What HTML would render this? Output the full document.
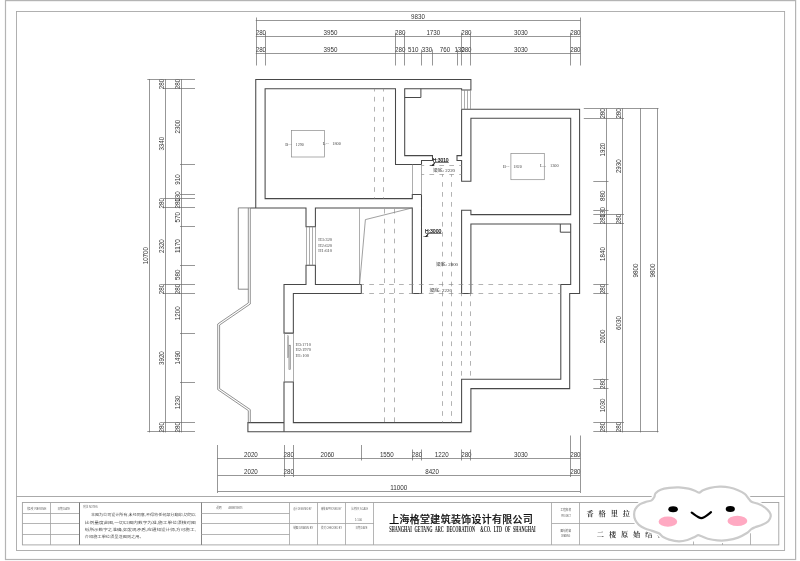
<!DOCTYPE html>
<html lang="zh"><head><meta charset="utf-8"><title>二楼原始结构图</title>
<style>
html,body{margin:0;padding:0;background:#fff;}
body{width:800px;height:561px;overflow:hidden;}
svg{display:block;font-family:"Liberation Sans","Noto Sans CJK SC",sans-serif;}
</style></head><body>
<svg width="800" height="561" viewBox="0 0 800 561">
<defs><filter id="gs" x="0" y="0" width="800" height="561" filterUnits="userSpaceOnUse" color-interpolation-filters="sRGB"><feColorMatrix type="saturate" values="0"/></filter></defs>
<rect width="800" height="561" fill="#fff"/>
<g filter="url(#gs)">
<rect x="5.5" y="0.6" width="790.1" height="558.9" fill="none" stroke="#b4b4b4" stroke-width="1.2"/>
<rect x="16.5" y="11.5" width="768.1" height="539.0" fill="none" stroke="#a8a8a8" stroke-width="0.9"/>
<path d="M255.75,207.9 V79.4 H470.9 V90.0 H461.6 V88.7 H404.7 V155.6 H432.5 V160.5 H421.5 V164.5 M421.5,194.4 V293.5 H412.3 V207.9 H315.4 V226.7 H306.0 V207.9 H250.3" fill="none" stroke="#484848" stroke-width="1.05" />
<path d="M421.5,164.5 H395.5 V88.7 H265.1 V198.6 H412.3 V194.4 H421.5" fill="none" stroke="#484848" stroke-width="1.05" />
<path d="M404.7,97.5 H420.9 V88.7" fill="none" stroke="#484848" stroke-width="1.0" />
<path d="M461.6,109.2 V155.6 H457.0 V160.5 H461.6 V181.2 H470.9 V118.3 H570.7 V214.6 H470.9 V210.3 H461.6 V293.5 H470.9 V224.0 H570.7 V284.4 H560.8 V379.3 H461.6 V422.6 H293.35 V382.0 H284.0 V431.8" fill="none" stroke="#484848" stroke-width="1.05" />
<path d="M461.6,109.2 H579.6 V293.5 H569.7 V388.6 H470.9 V431.8 H247.9 V422.6 H284.0" fill="none" stroke="#484848" stroke-width="1.05" />
<path d="M306.0,265.2 H315.4 V284.4 H361.3 V293.5 H293.35 V333.1 H284.0 V284.4 H306.0 Z" fill="none" stroke="#484848" stroke-width="1.05" />
<path d="M560.3,224.0 V232.2 H570.7" fill="none" stroke="#484848" stroke-width="1.0" />
<line x1="461.5" y1="90.0" x2="461.5" y2="109.2" stroke="#8a8a8a" stroke-width="0.7" />
<line x1="464.5" y1="90.0" x2="464.5" y2="109.2" stroke="#8a8a8a" stroke-width="0.7" />
<line x1="467.5" y1="90.0" x2="467.5" y2="109.2" stroke="#8a8a8a" stroke-width="0.7" />
<line x1="470.5" y1="90.0" x2="470.5" y2="109.2" stroke="#8a8a8a" stroke-width="0.7" />
<line x1="306.5" y1="226.7" x2="306.5" y2="265.2" stroke="#8a8a8a" stroke-width="0.7" />
<line x1="309.5" y1="226.7" x2="309.5" y2="265.2" stroke="#8a8a8a" stroke-width="0.7" />
<line x1="312.5" y1="226.7" x2="312.5" y2="265.2" stroke="#8a8a8a" stroke-width="0.7" />
<line x1="315.5" y1="226.7" x2="315.5" y2="265.2" stroke="#8a8a8a" stroke-width="0.7" />
<line x1="412.5" y1="164.5" x2="412.5" y2="194.4" stroke="#8a8a8a" stroke-width="0.7" />
<line x1="421.5" y1="164.5" x2="421.5" y2="194.4" stroke="#8a8a8a" stroke-width="0.7" />
<path d="M250.3,207.9 H238.3 V289.2 H248.3" fill="none" stroke="#6c6c6c" stroke-width="0.8" />
<path d="M248.3,207.9 V303 L217.7,324 V389.6 L248.3,410.6 V422.6" fill="none" stroke="#777" stroke-width="0.8" />
<path d="M250.3,207.9 V304 L219.6,325 V388.6 L250.3,409.6 V422.6" fill="none" stroke="#777" stroke-width="0.8" />
<line x1="284.5" y1="333.1" x2="284.5" y2="382.0" stroke="#8a8a8a" stroke-width="0.7" />
<line x1="293.5" y1="333.1" x2="293.5" y2="382.0" stroke="#8a8a8a" stroke-width="0.7" />
<rect x="287.3" y="335.8" width="1.4" height="21.6" fill="none" stroke="#8a8a8a" stroke-width="0.6"/>
<rect x="288.9" y="345.2" width="1.8" height="24.2" fill="#ccc" stroke="#8a8a8a" stroke-width="0.6"/>
<line x1="359.5" y1="207.9" x2="359.5" y2="284.4" stroke="#8a8a8a" stroke-width="0.7" />
<path d="M412.3,207.9 L365.4,219.6 L359.6,284.4" fill="none" stroke="#777" stroke-width="0.7" />
<rect x="291.5" y="130.5" width="33" height="26.5" fill="none" stroke="#8a8a8a" stroke-width="0.7"/>
<rect x="510.9" y="153.4" width="33.4" height="26.3" fill="none" stroke="#8a8a8a" stroke-width="0.7"/>
<line x1="374.5" y1="88.7" x2="374.5" y2="198.6" stroke="#8a8a8a" stroke-width="0.65" stroke-dasharray="4.7 5.34" stroke-dashoffset="1.9"/>
<line x1="383.5" y1="88.7" x2="383.5" y2="198.6" stroke="#8a8a8a" stroke-width="0.65" stroke-dasharray="4.7 5.34" stroke-dashoffset="1.9"/>
<line x1="384.5" y1="207.9" x2="384.5" y2="422.6" stroke="#8a8a8a" stroke-width="0.65" stroke-dasharray="4.7 5.23" stroke-dashoffset="9.0"/>
<line x1="394.5" y1="207.9" x2="394.5" y2="422.6" stroke="#8a8a8a" stroke-width="0.65" stroke-dasharray="4.7 5.23" stroke-dashoffset="9.0"/>
<line x1="442.5" y1="174.4" x2="442.5" y2="422.6" stroke="#8a8a8a" stroke-width="0.65" stroke-dasharray="4.7 5.26" stroke-dashoffset="2.3"/>
<line x1="451.5" y1="174.4" x2="451.5" y2="422.6" stroke="#8a8a8a" stroke-width="0.65" stroke-dasharray="4.7 5.26" stroke-dashoffset="2.3"/>
<line x1="421.5" y1="165.5" x2="461.6" y2="165.5" stroke="#8a8a8a" stroke-width="0.65" stroke-dasharray="4.7 5.23" stroke-dashoffset="2.0"/>
<line x1="421.5" y1="174.5" x2="461.6" y2="174.5" stroke="#8a8a8a" stroke-width="0.65" stroke-dasharray="4.7 5.23" stroke-dashoffset="2.0"/>
<line x1="361.3" y1="284.5" x2="560.8" y2="284.5" stroke="#8a8a8a" stroke-width="0.65" stroke-dasharray="4.7 5.23" stroke-dashoffset="1.98"/>
<line x1="361.3" y1="293.5" x2="560.8" y2="293.5" stroke="#8a8a8a" stroke-width="0.65" stroke-dasharray="4.7 5.23" stroke-dashoffset="1.98"/>
<line x1="461.5" y1="293.5" x2="461.5" y2="379.3" stroke="#8a8a8a" stroke-width="0.65" stroke-dasharray="4.7 5.23" stroke-dashoffset="2.0"/>
<line x1="470.5" y1="293.5" x2="470.5" y2="379.3" stroke="#8a8a8a" stroke-width="0.65" stroke-dasharray="4.7 5.23" stroke-dashoffset="2.0"/>
<line x1="255.75" y1="20.5" x2="580.5" y2="20.5" stroke="#6a6a6a" stroke-width="0.7" />
<text x="418" y="18.6" font-size="7.3" text-anchor="middle" fill="#333" textLength="13.8" lengthAdjust="spacingAndGlyphs" >9830</text>
<line x1="255.75" y1="36.5" x2="580.5" y2="36.5" stroke="#6a6a6a" stroke-width="0.7" />
<text x="260.9" y="35.3" font-size="7.3" text-anchor="middle" fill="#333" textLength="10.4" lengthAdjust="spacingAndGlyphs" >280</text>
<text x="330.5" y="35.3" font-size="7.3" text-anchor="middle" fill="#333" textLength="13.8" lengthAdjust="spacingAndGlyphs" >3950</text>
<text x="400.2" y="35.3" font-size="7.3" text-anchor="middle" fill="#333" textLength="10.4" lengthAdjust="spacingAndGlyphs" >280</text>
<text x="433.3" y="35.3" font-size="7.3" text-anchor="middle" fill="#333" textLength="13.8" lengthAdjust="spacingAndGlyphs" >1730</text>
<text x="466.4" y="35.3" font-size="7.3" text-anchor="middle" fill="#333" textLength="10.4" lengthAdjust="spacingAndGlyphs" >280</text>
<text x="520.9" y="35.3" font-size="7.3" text-anchor="middle" fill="#333" textLength="13.8" lengthAdjust="spacingAndGlyphs" >3030</text>
<text x="575.4" y="35.3" font-size="7.3" text-anchor="middle" fill="#333" textLength="10.4" lengthAdjust="spacingAndGlyphs" >280</text>
<line x1="255.75" y1="53.5" x2="580.5" y2="53.5" stroke="#6a6a6a" stroke-width="0.7" />
<text x="260.9" y="52.0" font-size="7.3" text-anchor="middle" fill="#333" textLength="10.4" lengthAdjust="spacingAndGlyphs" >280</text>
<text x="330.5" y="52.0" font-size="7.3" text-anchor="middle" fill="#333" textLength="13.8" lengthAdjust="spacingAndGlyphs" >3950</text>
<text x="400.2" y="52.0" font-size="7.3" text-anchor="middle" fill="#333" textLength="10.4" lengthAdjust="spacingAndGlyphs" >280</text>
<text x="413.2" y="52.0" font-size="7.3" text-anchor="middle" fill="#333" textLength="10.4" lengthAdjust="spacingAndGlyphs" >510</text>
<text x="427.0" y="52.0" font-size="7.3" text-anchor="middle" fill="#333" textLength="10.4" lengthAdjust="spacingAndGlyphs" >330</text>
<text x="445.0" y="52.0" font-size="7.3" text-anchor="middle" fill="#333" textLength="10.4" lengthAdjust="spacingAndGlyphs" >760</text>
<text x="459.6" y="52.0" font-size="7.3" text-anchor="middle" fill="#333" textLength="10.4" lengthAdjust="spacingAndGlyphs" >130</text>
<text x="466.4" y="52.0" font-size="7.3" text-anchor="middle" fill="#333" textLength="10.4" lengthAdjust="spacingAndGlyphs" >280</text>
<text x="520.9" y="52.0" font-size="7.3" text-anchor="middle" fill="#333" textLength="13.8" lengthAdjust="spacingAndGlyphs" >3030</text>
<text x="575.4" y="52.0" font-size="7.3" text-anchor="middle" fill="#333" textLength="10.4" lengthAdjust="spacingAndGlyphs" >280</text>
<line x1="256.5" y1="17.5" x2="256.5" y2="65.5" stroke="#6a6a6a" stroke-width="0.7" />
<line x1="580.5" y1="17.5" x2="580.5" y2="65.5" stroke="#6a6a6a" stroke-width="0.7" />
<line x1="265.5" y1="32.5" x2="265.5" y2="65.5" stroke="#6a6a6a" stroke-width="0.7" />
<line x1="395.5" y1="32.5" x2="395.5" y2="65.5" stroke="#6a6a6a" stroke-width="0.7" />
<line x1="404.5" y1="32.5" x2="404.5" y2="65.5" stroke="#6a6a6a" stroke-width="0.7" />
<line x1="461.5" y1="32.5" x2="461.5" y2="65.5" stroke="#6a6a6a" stroke-width="0.7" />
<line x1="470.5" y1="32.5" x2="470.5" y2="65.5" stroke="#6a6a6a" stroke-width="0.7" />
<line x1="570.5" y1="32.5" x2="570.5" y2="65.5" stroke="#6a6a6a" stroke-width="0.7" />
<line x1="421.5" y1="49.5" x2="421.5" y2="65.5" stroke="#6a6a6a" stroke-width="0.7" />
<line x1="432.5" y1="49.5" x2="432.5" y2="65.5" stroke="#6a6a6a" stroke-width="0.7" />
<line x1="457.5" y1="49.5" x2="457.5" y2="65.5" stroke="#6a6a6a" stroke-width="0.7" />
<line x1="217.2" y1="458.5" x2="580.5" y2="458.5" stroke="#6a6a6a" stroke-width="0.7" />
<text x="250.9" y="457.4" font-size="7.3" text-anchor="middle" fill="#333" textLength="13.8" lengthAdjust="spacingAndGlyphs" >2020</text>
<text x="288.8" y="457.4" font-size="7.3" text-anchor="middle" fill="#333" textLength="10.4" lengthAdjust="spacingAndGlyphs" >280</text>
<text x="327.4" y="457.4" font-size="7.3" text-anchor="middle" fill="#333" textLength="13.8" lengthAdjust="spacingAndGlyphs" >2060</text>
<text x="386.8" y="457.4" font-size="7.3" text-anchor="middle" fill="#333" textLength="13.8" lengthAdjust="spacingAndGlyphs" >1550</text>
<text x="417.0" y="457.4" font-size="7.3" text-anchor="middle" fill="#333" textLength="10.4" lengthAdjust="spacingAndGlyphs" >280</text>
<text x="441.7" y="457.4" font-size="7.3" text-anchor="middle" fill="#333" textLength="13.8" lengthAdjust="spacingAndGlyphs" >1220</text>
<text x="466.4" y="457.4" font-size="7.3" text-anchor="middle" fill="#333" textLength="10.4" lengthAdjust="spacingAndGlyphs" >280</text>
<text x="520.9" y="457.4" font-size="7.3" text-anchor="middle" fill="#333" textLength="13.8" lengthAdjust="spacingAndGlyphs" >3030</text>
<text x="575.4" y="457.4" font-size="7.3" text-anchor="middle" fill="#333" textLength="10.4" lengthAdjust="spacingAndGlyphs" >280</text>
<line x1="217.7" y1="475.5" x2="580.0" y2="475.5" stroke="#6a6a6a" stroke-width="0.7" />
<text x="250.9" y="474.0" font-size="7.3" text-anchor="middle" fill="#333" textLength="13.8" lengthAdjust="spacingAndGlyphs" >2020</text>
<text x="288.8" y="474.0" font-size="7.3" text-anchor="middle" fill="#333" textLength="10.4" lengthAdjust="spacingAndGlyphs" >280</text>
<text x="432.1" y="474.0" font-size="7.3" text-anchor="middle" fill="#333" textLength="13.8" lengthAdjust="spacingAndGlyphs" >8420</text>
<text x="575.4" y="474.0" font-size="7.3" text-anchor="middle" fill="#333" textLength="10.4" lengthAdjust="spacingAndGlyphs" >280</text>
<line x1="217.7" y1="491.5" x2="580.0" y2="491.5" stroke="#6a6a6a" stroke-width="0.7" />
<text x="398.8" y="490.4" font-size="7.3" text-anchor="middle" fill="#333" textLength="17.2" lengthAdjust="spacingAndGlyphs" >11000</text>
<line x1="217.5" y1="445" x2="217.5" y2="493" stroke="#6a6a6a" stroke-width="0.7" />
<line x1="580.5" y1="435.5" x2="580.5" y2="493" stroke="#6a6a6a" stroke-width="0.7" />
<line x1="284.5" y1="445" x2="284.5" y2="477" stroke="#6a6a6a" stroke-width="0.7" />
<line x1="293.5" y1="445" x2="293.5" y2="477" stroke="#6a6a6a" stroke-width="0.7" />
<line x1="570.5" y1="435.5" x2="570.5" y2="477" stroke="#6a6a6a" stroke-width="0.7" />
<line x1="361.5" y1="445" x2="361.5" y2="460.5" stroke="#6a6a6a" stroke-width="0.7" />
<line x1="412.5" y1="449.5" x2="412.5" y2="460.5" stroke="#6a6a6a" stroke-width="0.7" />
<line x1="421.5" y1="449.5" x2="421.5" y2="460.5" stroke="#6a6a6a" stroke-width="0.7" />
<line x1="461.5" y1="449.5" x2="461.5" y2="460.5" stroke="#6a6a6a" stroke-width="0.7" />
<line x1="470.5" y1="449.5" x2="470.5" y2="460.5" stroke="#6a6a6a" stroke-width="0.7" />
<line x1="181.5" y1="79.0" x2="181.5" y2="432.4" stroke="#6a6a6a" stroke-width="0.7" />
<text transform="translate(179.9,84.1) rotate(-90)" font-size="7.3" text-anchor="middle" fill="#333" textLength="10.4" lengthAdjust="spacingAndGlyphs">280</text>
<text transform="translate(179.9,126.6) rotate(-90)" font-size="7.3" text-anchor="middle" fill="#333" textLength="13.8" lengthAdjust="spacingAndGlyphs">2300</text>
<text transform="translate(179.9,179.5) rotate(-90)" font-size="7.3" text-anchor="middle" fill="#333" textLength="10.4" lengthAdjust="spacingAndGlyphs">910</text>
<text transform="translate(179.9,196.6) rotate(-90)" font-size="7.3" text-anchor="middle" fill="#333" textLength="10.4" lengthAdjust="spacingAndGlyphs">130</text>
<text transform="translate(179.9,203.3) rotate(-90)" font-size="7.3" text-anchor="middle" fill="#333" textLength="10.4" lengthAdjust="spacingAndGlyphs">280</text>
<text transform="translate(179.9,217.3) rotate(-90)" font-size="7.3" text-anchor="middle" fill="#333" textLength="10.4" lengthAdjust="spacingAndGlyphs">570</text>
<text transform="translate(179.9,246.0) rotate(-90)" font-size="7.3" text-anchor="middle" fill="#333" textLength="13.8" lengthAdjust="spacingAndGlyphs">1170</text>
<text transform="translate(179.9,274.8) rotate(-90)" font-size="7.3" text-anchor="middle" fill="#333" textLength="10.4" lengthAdjust="spacingAndGlyphs">580</text>
<text transform="translate(179.9,289.0) rotate(-90)" font-size="7.3" text-anchor="middle" fill="#333" textLength="10.4" lengthAdjust="spacingAndGlyphs">280</text>
<text transform="translate(179.9,313.3) rotate(-90)" font-size="7.3" text-anchor="middle" fill="#333" textLength="13.8" lengthAdjust="spacingAndGlyphs">1200</text>
<text transform="translate(179.9,357.6) rotate(-90)" font-size="7.3" text-anchor="middle" fill="#333" textLength="13.8" lengthAdjust="spacingAndGlyphs">1490</text>
<text transform="translate(179.9,402.4) rotate(-90)" font-size="7.3" text-anchor="middle" fill="#333" textLength="13.8" lengthAdjust="spacingAndGlyphs">1230</text>
<text transform="translate(179.9,427.3) rotate(-90)" font-size="7.3" text-anchor="middle" fill="#333" textLength="10.4" lengthAdjust="spacingAndGlyphs">280</text>
<line x1="165.5" y1="79.0" x2="165.5" y2="432.4" stroke="#6a6a6a" stroke-width="0.7" />
<text transform="translate(163.9,84.1) rotate(-90)" font-size="7.3" text-anchor="middle" fill="#333" textLength="10.4" lengthAdjust="spacingAndGlyphs">280</text>
<text transform="translate(163.9,143.7) rotate(-90)" font-size="7.3" text-anchor="middle" fill="#333" textLength="13.8" lengthAdjust="spacingAndGlyphs">3340</text>
<text transform="translate(163.9,203.3) rotate(-90)" font-size="7.3" text-anchor="middle" fill="#333" textLength="10.4" lengthAdjust="spacingAndGlyphs">280</text>
<text transform="translate(163.9,246.1) rotate(-90)" font-size="7.3" text-anchor="middle" fill="#333" textLength="13.8" lengthAdjust="spacingAndGlyphs">2320</text>
<text transform="translate(163.9,289.0) rotate(-90)" font-size="7.3" text-anchor="middle" fill="#333" textLength="10.4" lengthAdjust="spacingAndGlyphs">280</text>
<text transform="translate(163.9,358.1) rotate(-90)" font-size="7.3" text-anchor="middle" fill="#333" textLength="13.8" lengthAdjust="spacingAndGlyphs">3920</text>
<text transform="translate(163.9,427.3) rotate(-90)" font-size="7.3" text-anchor="middle" fill="#333" textLength="10.4" lengthAdjust="spacingAndGlyphs">280</text>
<line x1="149.5" y1="79.0" x2="149.5" y2="432.4" stroke="#6a6a6a" stroke-width="0.7" />
<text transform="translate(147.6,255.7) rotate(-90)" font-size="7.3" text-anchor="middle" fill="#333" textLength="17.2" lengthAdjust="spacingAndGlyphs">10700</text>
<line x1="147.3" y1="79.5" x2="195" y2="79.5" stroke="#6a6a6a" stroke-width="0.7" />
<line x1="147.3" y1="431.5" x2="195" y2="431.5" stroke="#6a6a6a" stroke-width="0.7" />
<line x1="163.3" y1="88.5" x2="195" y2="88.5" stroke="#6a6a6a" stroke-width="0.7" />
<line x1="163.3" y1="198.5" x2="195" y2="198.5" stroke="#6a6a6a" stroke-width="0.7" />
<line x1="163.3" y1="207.5" x2="195" y2="207.5" stroke="#6a6a6a" stroke-width="0.7" />
<line x1="163.3" y1="284.5" x2="195" y2="284.5" stroke="#6a6a6a" stroke-width="0.7" />
<line x1="163.3" y1="293.5" x2="195" y2="293.5" stroke="#6a6a6a" stroke-width="0.7" />
<line x1="163.3" y1="422.5" x2="195" y2="422.5" stroke="#6a6a6a" stroke-width="0.7" />
<line x1="180" y1="164.5" x2="195" y2="164.5" stroke="#6a6a6a" stroke-width="0.7" />
<line x1="180" y1="194.5" x2="195" y2="194.5" stroke="#6a6a6a" stroke-width="0.7" />
<line x1="180" y1="226.5" x2="195" y2="226.5" stroke="#6a6a6a" stroke-width="0.7" />
<line x1="180" y1="265.5" x2="195" y2="265.5" stroke="#6a6a6a" stroke-width="0.7" />
<line x1="180" y1="333.5" x2="195" y2="333.5" stroke="#6a6a6a" stroke-width="0.7" />
<line x1="180" y1="382.5" x2="195" y2="382.5" stroke="#6a6a6a" stroke-width="0.7" />
<line x1="606.5" y1="108.3" x2="606.5" y2="432.4" stroke="#6a6a6a" stroke-width="0.7" />
<text transform="translate(604.9,113.4) rotate(-90)" font-size="7.3" text-anchor="middle" fill="#333" textLength="10.4" lengthAdjust="spacingAndGlyphs">280</text>
<text transform="translate(604.9,149.6) rotate(-90)" font-size="7.3" text-anchor="middle" fill="#333" textLength="13.8" lengthAdjust="spacingAndGlyphs">1920</text>
<text transform="translate(604.9,195.7) rotate(-90)" font-size="7.3" text-anchor="middle" fill="#333" textLength="10.4" lengthAdjust="spacingAndGlyphs">880</text>
<text transform="translate(604.9,212.3) rotate(-90)" font-size="7.3" text-anchor="middle" fill="#333" textLength="10.4" lengthAdjust="spacingAndGlyphs">130</text>
<text transform="translate(604.9,219.1) rotate(-90)" font-size="7.3" text-anchor="middle" fill="#333" textLength="10.4" lengthAdjust="spacingAndGlyphs">280</text>
<text transform="translate(604.9,254.0) rotate(-90)" font-size="7.3" text-anchor="middle" fill="#333" textLength="13.8" lengthAdjust="spacingAndGlyphs">1840</text>
<text transform="translate(604.9,288.9) rotate(-90)" font-size="7.3" text-anchor="middle" fill="#333" textLength="10.4" lengthAdjust="spacingAndGlyphs">280</text>
<text transform="translate(604.9,336.4) rotate(-90)" font-size="7.3" text-anchor="middle" fill="#333" textLength="13.8" lengthAdjust="spacingAndGlyphs">2600</text>
<text transform="translate(604.9,383.8) rotate(-90)" font-size="7.3" text-anchor="middle" fill="#333" textLength="10.4" lengthAdjust="spacingAndGlyphs">280</text>
<text transform="translate(604.9,405.4) rotate(-90)" font-size="7.3" text-anchor="middle" fill="#333" textLength="13.8" lengthAdjust="spacingAndGlyphs">1030</text>
<text transform="translate(604.9,427.0) rotate(-90)" font-size="7.3" text-anchor="middle" fill="#333" textLength="10.4" lengthAdjust="spacingAndGlyphs">280</text>
<line x1="622.5" y1="108.3" x2="622.5" y2="432.4" stroke="#6a6a6a" stroke-width="0.7" />
<text transform="translate(620.6,113.4) rotate(-90)" font-size="7.3" text-anchor="middle" fill="#333" textLength="10.4" lengthAdjust="spacingAndGlyphs">280</text>
<text transform="translate(620.6,166.2) rotate(-90)" font-size="7.3" text-anchor="middle" fill="#333" textLength="13.8" lengthAdjust="spacingAndGlyphs">2930</text>
<text transform="translate(620.6,219.1) rotate(-90)" font-size="7.3" text-anchor="middle" fill="#333" textLength="10.4" lengthAdjust="spacingAndGlyphs">280</text>
<text transform="translate(620.6,323.0) rotate(-90)" font-size="7.3" text-anchor="middle" fill="#333" textLength="13.8" lengthAdjust="spacingAndGlyphs">6030</text>
<text transform="translate(620.6,427.0) rotate(-90)" font-size="7.3" text-anchor="middle" fill="#333" textLength="10.4" lengthAdjust="spacingAndGlyphs">280</text>
<line x1="640.5" y1="108.3" x2="640.5" y2="432.4" stroke="#6a6a6a" stroke-width="0.7" />
<text transform="translate(638.0,270.5) rotate(-90)" font-size="7.3" text-anchor="middle" fill="#333" textLength="13.8" lengthAdjust="spacingAndGlyphs">9800</text>
<line x1="657.5" y1="108.3" x2="657.5" y2="432.4" stroke="#6a6a6a" stroke-width="0.7" />
<text transform="translate(655.0,270.5) rotate(-90)" font-size="7.3" text-anchor="middle" fill="#333" textLength="13.8" lengthAdjust="spacingAndGlyphs">9800</text>
<line x1="583.8" y1="108.5" x2="658.5" y2="108.5" stroke="#6a6a6a" stroke-width="0.7" />
<line x1="593.3" y1="431.5" x2="658.5" y2="431.5" stroke="#6a6a6a" stroke-width="0.7" />
<line x1="583.8" y1="118.5" x2="624" y2="118.5" stroke="#6a6a6a" stroke-width="0.7" />
<line x1="593.3" y1="214.5" x2="624" y2="214.5" stroke="#6a6a6a" stroke-width="0.7" />
<line x1="593.3" y1="223.5" x2="624" y2="223.5" stroke="#6a6a6a" stroke-width="0.7" />
<line x1="593.3" y1="422.5" x2="624" y2="422.5" stroke="#6a6a6a" stroke-width="0.7" />
<line x1="593.3" y1="181.5" x2="608.5" y2="181.5" stroke="#6a6a6a" stroke-width="0.7" />
<line x1="593.3" y1="210.5" x2="608.5" y2="210.5" stroke="#6a6a6a" stroke-width="0.7" />
<line x1="593.3" y1="284.5" x2="608.5" y2="284.5" stroke="#6a6a6a" stroke-width="0.7" />
<line x1="593.3" y1="293.5" x2="608.5" y2="293.5" stroke="#6a6a6a" stroke-width="0.7" />
<line x1="593.3" y1="379.5" x2="608.5" y2="379.5" stroke="#6a6a6a" stroke-width="0.7" />
<line x1="593.3" y1="388.5" x2="608.5" y2="388.5" stroke="#6a6a6a" stroke-width="0.7" />
<text x="285.3" y="145.6" font-size="4.5" fill="#484848" font-family="Liberation Serif, serif">B<tspan font-size="3" dy="0.2">==</tspan></text>
<text x="295.6" y="145.6" font-size="4.5" text-anchor="start" fill="#484848" textLength="8.2" lengthAdjust="spacingAndGlyphs" font-family="Liberation Serif, serif">1290</text>
<text x="322.8" y="145.0" font-size="4.5" fill="#484848" font-family="Liberation Serif, serif">L<tspan font-size="3" dy="0.2">==</tspan></text>
<text x="332.3" y="145.0" font-size="4.5" text-anchor="start" fill="#484848" textLength="8.5" lengthAdjust="spacingAndGlyphs" font-family="Liberation Serif, serif">1800</text>
<text x="503.0" y="167.8" font-size="4.5" fill="#484848" font-family="Liberation Serif, serif">B<tspan font-size="3" dy="0.2">==</tspan></text>
<text x="513.3" y="167.8" font-size="4.5" text-anchor="start" fill="#484848" textLength="8.5" lengthAdjust="spacingAndGlyphs" font-family="Liberation Serif, serif">1820</text>
<text x="540.0" y="167.3" font-size="4.5" fill="#484848" font-family="Liberation Serif, serif">L<tspan font-size="3" dy="0.2">==</tspan></text>
<text x="550.0" y="167.3" font-size="4.5" text-anchor="start" fill="#484848" textLength="8.7" lengthAdjust="spacingAndGlyphs" font-family="Liberation Serif, serif">1300</text>
<text x="318.2" y="241.0" font-size="4.2" text-anchor="start" fill="#484848" textLength="14" lengthAdjust="spacingAndGlyphs" font-family="Liberation Serif, serif">H3:320</text>
<text x="318.2" y="246.65" font-size="4.2" text-anchor="start" fill="#484848" textLength="14" lengthAdjust="spacingAndGlyphs" font-family="Liberation Serif, serif">H2:620</text>
<text x="318.2" y="252.3" font-size="4.2" text-anchor="start" fill="#484848" textLength="14" lengthAdjust="spacingAndGlyphs" font-family="Liberation Serif, serif">H1:610</text>
<text x="295.4" y="345.8" font-size="4.2" text-anchor="start" fill="#484848" textLength="15.7" lengthAdjust="spacingAndGlyphs" font-family="Liberation Serif, serif">H3:1710</text>
<text x="295.4" y="351.45" font-size="4.2" text-anchor="start" fill="#484848" textLength="15.7" lengthAdjust="spacingAndGlyphs" font-family="Liberation Serif, serif">H2:1970</text>
<text x="295.4" y="357.1" font-size="4.2" text-anchor="start" fill="#484848" textLength="13.5" lengthAdjust="spacingAndGlyphs" font-family="Liberation Serif, serif">H1:100</text>
<text x="433" y="172.0" font-size="4.1" text-anchor="start" fill="#333" textLength="22" lengthAdjust="spacingAndGlyphs" font-family="Liberation Serif, Noto Sans CJK SC, serif">梁底: 2220</text>
<text x="436" y="265.8" font-size="4.1" text-anchor="start" fill="#333" textLength="22" lengthAdjust="spacingAndGlyphs" font-family="Liberation Serif, Noto Sans CJK SC, serif">梁底: 2800</text>
<text x="429.4" y="292.0" font-size="4.1" text-anchor="start" fill="#333" textLength="22.5" lengthAdjust="spacingAndGlyphs" font-family="Liberation Serif, Noto Sans CJK SC, serif">梁底: 2220</text>
<text x="432.8" y="161.9" font-size="6.2" text-anchor="start" fill="#111" textLength="15.8" lengthAdjust="spacingAndGlyphs" stroke="#111" stroke-width="0.2">H:3010</text>
<line x1="433.4" y1="162.5" x2="448.8" y2="162.5" stroke="#222" stroke-width="0.6" />
<path d="M430.0,165.4 H434.4 M431.8,165.4 L434.9,162.6 L433.4,165.4 Z" fill="#111" stroke="#111" stroke-width="0.5"/>
<text x="425.0" y="232.9" font-size="6.2" text-anchor="start" fill="#111" textLength="16.3" lengthAdjust="spacingAndGlyphs" stroke="#111" stroke-width="0.2">H:3000</text>
<line x1="425.6" y1="233.5" x2="441.6" y2="233.5" stroke="#222" stroke-width="0.6" />
<path d="M423.4,236.5 H428.4 M425.4,236.5 L428.3,233.8 L427.0,236.5 Z" fill="#111" stroke="#111" stroke-width="0.5"/>
<line x1="16.5" y1="496.5" x2="784.7" y2="496.5" stroke="#a0a0a0" stroke-width="0.9" />
<rect x="22.4" y="502.5" width="756.4" height="42.4" fill="none" stroke="#a2a2a2" stroke-width="0.9"/>
<line x1="50.5" y1="502.5" x2="50.5" y2="544.9" stroke="#a2a2a2" stroke-width="0.8" />
<line x1="79.5" y1="502.5" x2="79.5" y2="544.9" stroke="#777" stroke-width="1.0" />
<line x1="22.4" y1="513.5" x2="79.0" y2="513.5" stroke="#a2a2a2" stroke-width="0.8" />
<line x1="22.4" y1="523.5" x2="79.0" y2="523.5" stroke="#a2a2a2" stroke-width="0.8" />
<line x1="22.4" y1="534.5" x2="79.0" y2="534.5" stroke="#a2a2a2" stroke-width="0.8" />
<line x1="201.5" y1="502.5" x2="201.5" y2="544.9" stroke="#777" stroke-width="0.9" />
<line x1="201.3" y1="513.5" x2="289.6" y2="513.5" stroke="#a2a2a2" stroke-width="0.8" />
<line x1="201.3" y1="523.5" x2="289.6" y2="523.5" stroke="#a2a2a2" stroke-width="0.8" />
<line x1="201.3" y1="534.5" x2="289.6" y2="534.5" stroke="#a2a2a2" stroke-width="0.8" />
<line x1="289.5" y1="502.5" x2="289.5" y2="544.9" stroke="#a2a2a2" stroke-width="0.8" />
<line x1="317.5" y1="502.5" x2="317.5" y2="544.9" stroke="#a2a2a2" stroke-width="0.8" />
<line x1="345.5" y1="502.5" x2="345.5" y2="544.9" stroke="#a2a2a2" stroke-width="0.8" />
<line x1="373.5" y1="502.5" x2="373.5" y2="544.9" stroke="#a2a2a2" stroke-width="0.8" />
<line x1="289.6" y1="523.5" x2="373.9" y2="523.5" stroke="#a2a2a2" stroke-width="0.8" />
<line x1="551.5" y1="502.5" x2="551.5" y2="544.9" stroke="#a2a2a2" stroke-width="0.8" />
<line x1="579.5" y1="502.5" x2="579.5" y2="544.9" stroke="#a2a2a2" stroke-width="0.8" />
<line x1="551.8" y1="523.5" x2="722.0" y2="523.5" stroke="#a2a2a2" stroke-width="0.8" />
<line x1="693.5" y1="541.5" x2="693.5" y2="544.9" stroke="#a2a2a2" stroke-width="0.8" />
<line x1="722.5" y1="502.5" x2="722.5" y2="544.9" stroke="#a2a2a2" stroke-width="0.8" />
<line x1="750.5" y1="502.5" x2="750.5" y2="544.9" stroke="#a2a2a2" stroke-width="0.8" />
<text x="27.0" y="510.3" font-size="3.3" text-anchor="start" fill="#666" textLength="19.5" lengthAdjust="spacingAndGlyphs" font-family="Liberation Sans, Noto Sans CJK SC, sans-serif">修改 REVISE</text>
<text x="57.5" y="510.3" font-size="3.3" text-anchor="start" fill="#666" textLength="12.5" lengthAdjust="spacingAndGlyphs" font-family="Liberation Sans, Noto Sans CJK SC, sans-serif">日期 DATE</text>
<text x="83.2" y="507.6" font-size="2.9" text-anchor="start" fill="#666" textLength="14.5" lengthAdjust="spacingAndGlyphs" font-family="Liberation Sans, Noto Sans CJK SC, sans-serif">附注 NOTES</text>
<text x="90.9" y="515.6" font-size="3.9" text-anchor="start" fill="#4c4c4c" textLength="105" lengthAdjust="spacingAndGlyphs" font-family="Liberation Sans, Noto Sans CJK SC, sans-serif">本图为公司设计所有,未经同意,不得将任何部分翻印,切勿以</text>
<text x="84.8" y="523.7" font-size="3.9" text-anchor="start" fill="#4c4c4c" textLength="111" lengthAdjust="spacingAndGlyphs" font-family="Liberation Sans, Noto Sans CJK SC, sans-serif">比例量度此图,一切以图内数字为准,施工单位须核对图</text>
<text x="84.8" y="530.6" font-size="3.9" text-anchor="start" fill="#4c4c4c" textLength="111" lengthAdjust="spacingAndGlyphs" font-family="Liberation Sans, Noto Sans CJK SC, sans-serif">纸所示数字之准确,如发现矛盾,应通知设计师,方可施工,</text>
<text x="84.8" y="538.4" font-size="3.9" text-anchor="start" fill="#4c4c4c" textLength="59" lengthAdjust="spacingAndGlyphs" font-family="Liberation Sans, Noto Sans CJK SC, sans-serif">介绍施工单位须呈送图则之用。</text>
<text x="216" y="509.3" font-size="3.3" text-anchor="start" fill="#666" textLength="5.5" lengthAdjust="spacingAndGlyphs" font-family="Liberation Sans, Noto Sans CJK SC, sans-serif">说明</text>
<text x="228.5" y="509.3" font-size="3.3" text-anchor="start" fill="#666" textLength="14" lengthAdjust="spacingAndGlyphs" font-family="Liberation Sans, Noto Sans CJK SC, sans-serif">AMMENTMENTS</text>
<text x="293.2" y="509.8" font-size="3.3" text-anchor="start" fill="#666" textLength="18.5" lengthAdjust="spacingAndGlyphs" font-family="Liberation Sans, Noto Sans CJK SC, sans-serif">设计 DESIGNED BY</text>
<text x="321.0" y="509.8" font-size="3.3" text-anchor="start" fill="#666" textLength="20.5" lengthAdjust="spacingAndGlyphs" font-family="Liberation Sans, Noto Sans CJK SC, sans-serif">审核 APPROVED BY</text>
<text x="351.5" y="509.8" font-size="3.3" text-anchor="start" fill="#666" textLength="16.5" lengthAdjust="spacingAndGlyphs" font-family="Liberation Sans, Noto Sans CJK SC, sans-serif">比例/尺 SCALE</text>
<text x="355.0" y="520.8" font-size="3.3" text-anchor="start" fill="#666" textLength="7" lengthAdjust="spacingAndGlyphs" font-family="Liberation Sans, Noto Sans CJK SC, sans-serif">1:100</text>
<text x="293.2" y="529.2" font-size="3.3" text-anchor="start" fill="#666" textLength="20" lengthAdjust="spacingAndGlyphs" font-family="Liberation Sans, Noto Sans CJK SC, sans-serif">制图 DRAWN BY</text>
<text x="321.0" y="529.2" font-size="3.3" text-anchor="start" fill="#666" textLength="21" lengthAdjust="spacingAndGlyphs" font-family="Liberation Sans, Noto Sans CJK SC, sans-serif">校对 CHECKED BY</text>
<text x="355.5" y="529.2" font-size="3.3" text-anchor="start" fill="#666" textLength="12" lengthAdjust="spacingAndGlyphs" font-family="Liberation Sans, Noto Sans CJK SC, sans-serif">日期  DATE</text>
<text x="560.6" y="511.3" font-size="3.5" text-anchor="start" fill="#555" textLength="10.4" lengthAdjust="spacingAndGlyphs" font-family="Liberation Sans, Noto Sans CJK SC, sans-serif">工程名称</text>
<text x="561.2" y="517.4" font-size="3.5" text-anchor="start" fill="#555" textLength="9.6" lengthAdjust="spacingAndGlyphs" font-family="Liberation Sans, Noto Sans CJK SC, sans-serif">PROJECT</text>
<text x="560.6" y="531.8" font-size="3.5" text-anchor="start" fill="#555" textLength="10.4" lengthAdjust="spacingAndGlyphs" font-family="Liberation Sans, Noto Sans CJK SC, sans-serif">图纸内容</text>
<text x="561.2" y="537.1" font-size="3.5" text-anchor="start" fill="#555" textLength="9.0" lengthAdjust="spacingAndGlyphs" font-family="Liberation Sans, Noto Sans CJK SC, sans-serif">DRAWING</text>
<text x="389.2" y="523.0" font-size="9.9" font-weight="500" fill="#111" stroke="#111" stroke-width="0.2" textLength="143.6" lengthAdjust="spacing" font-family="Liberation Sans, Noto Sans CJK SC, sans-serif">上海格堂建筑装饰设计有限公司</text>
<text x="389.2" y="531.7" font-size="7.8" font-weight="bold" fill="#222" word-spacing="3" textLength="146.5" lengthAdjust="spacingAndGlyphs" font-family="Liberation Serif, serif" xml:space="preserve">SHANGHAI GETANG ARC DECORATION  &amp;CO. LTD OF SHANGHAI</text>
<text x="586.4" y="516.4" font-size="7.2" text-anchor="start" fill="#222" font-family="Liberation Serif, Noto Serif CJK SC, serif" font-weight="600">香</text>
<text x="598.55" y="516.4" font-size="7.2" text-anchor="start" fill="#222" font-family="Liberation Serif, Noto Serif CJK SC, serif" font-weight="600">格</text>
<text x="610.6999999999999" y="516.4" font-size="7.2" text-anchor="start" fill="#222" font-family="Liberation Serif, Noto Serif CJK SC, serif" font-weight="600">里</text>
<text x="622.85" y="516.4" font-size="7.2" text-anchor="start" fill="#222" font-family="Liberation Serif, Noto Serif CJK SC, serif" font-weight="600">拉</text>
<text x="596.8" y="537.1" font-size="7.2" text-anchor="start" fill="#222" font-family="Liberation Serif, Noto Serif CJK SC, serif" font-weight="600">二</text>
<text x="608.9" y="537.1" font-size="7.2" text-anchor="start" fill="#222" font-family="Liberation Serif, Noto Serif CJK SC, serif" font-weight="600">楼</text>
<text x="621.0" y="537.1" font-size="7.2" text-anchor="start" fill="#222" font-family="Liberation Serif, Noto Serif CJK SC, serif" font-weight="600">原</text>
<text x="633.0999999999999" y="537.1" font-size="7.2" text-anchor="start" fill="#222" font-family="Liberation Serif, Noto Serif CJK SC, serif" font-weight="600">始</text>
<text x="645.1999999999999" y="537.1" font-size="7.2" text-anchor="start" fill="#222" font-family="Liberation Serif, Noto Serif CJK SC, serif" font-weight="600">结</text>
<text x="657.3" y="537.1" font-size="7.2" text-anchor="start" fill="#222" font-family="Liberation Serif, Noto Serif CJK SC, serif" font-weight="600">构</text>
<text x="669.4" y="537.1" font-size="7.2" text-anchor="start" fill="#222" font-family="Liberation Serif, Noto Serif CJK SC, serif" font-weight="600">图</text>
</g>
<path d="M634.1,514.5 C634.1,512.7 634.3,510.8 635.3,509.1 C636.3,507.4 638.3,505.4 640.1,504.2 C641.9,503.0 644.3,502.4 646.2,501.8 C648.1,501.2 650.2,501.2 651.6,500.4 C653.0,499.6 653.6,498.2 654.3,497 C655.0,495.8 654.5,494.5 655.6,493.3 C656.7,492.1 658.4,490.6 660.7,489.7 C663.0,488.8 666.2,488.3 669.2,487.9 C672.2,487.5 675.7,487.3 678.9,487.4 C682.1,487.5 685.8,488.1 688.6,488.7 C691.4,489.3 694.1,490.5 695.9,491.2 C697.7,491.9 698.1,492.8 699.3,492.6 C700.5,492.5 701.2,491.1 703.0,490.3 C704.8,489.5 707.3,488.5 710.1,487.9 C712.9,487.3 716.6,486.8 719.8,486.7 C723.0,486.6 726.5,486.9 729.5,487.5 C732.5,488.1 735.5,489.2 738,490.3 C740.5,491.4 743.0,492.6 744.7,493.9 C746.4,495.2 747.2,496.9 748.3,498.2 C749.4,499.5 750.0,500.9 751.5,501.8 C753.0,502.7 755.2,502.7 757.4,503.6 C759.6,504.5 762.7,505.9 764.7,507.3 C766.7,508.7 768.5,510.6 769.5,512.1 C770.5,513.6 770.9,514.9 770.7,516.4 C770.5,517.9 769.7,519.8 768.3,521.2 C766.9,522.6 764.4,523.8 762.2,524.8 C760.0,525.8 756.8,526.6 755,527.3 C753.2,528.0 752.7,528.1 751.3,529.1 C749.9,530.1 748.7,531.9 746.5,533.3 C744.3,534.7 741.2,536.5 738,537.6 C734.8,538.8 730.5,539.7 727.1,540.2 C723.7,540.7 720.6,540.6 717.4,540.4 C714.2,540.2 710.4,539.5 707.7,538.8 C705.1,538.1 703.1,536.9 701.5,536.3 C699.9,535.7 699.3,535.1 698.2,535.2 C697.1,535.3 696.5,536.2 694.7,537 C692.9,537.8 690.0,539.3 687.4,540 C684.8,540.7 681.9,541.4 678.9,541.3 C675.9,541.2 671.8,540.3 669.2,539.6 C666.6,538.9 664.9,538.0 663.2,537 C661.5,536.0 660.7,534.3 658.9,533.3 C657.1,532.3 654.5,531.7 652.2,530.9 C649.9,530.1 647.2,529.5 645,528.5 C642.8,527.5 640.5,526.2 638.9,524.8 C637.3,523.4 636.1,521.7 635.3,520 C634.5,518.3 634.1,516.3 634.1,514.5Z" fill="#fff" stroke="#fff" stroke-width="5" stroke-linejoin="round"/>
<path d="M634.1,514.5 C634.1,512.7 634.3,510.8 635.3,509.1 C636.3,507.4 638.3,505.4 640.1,504.2 C641.9,503.0 644.3,502.4 646.2,501.8 C648.1,501.2 650.2,501.2 651.6,500.4 C653.0,499.6 653.6,498.2 654.3,497 C655.0,495.8 654.5,494.5 655.6,493.3 C656.7,492.1 658.4,490.6 660.7,489.7 C663.0,488.8 666.2,488.3 669.2,487.9 C672.2,487.5 675.7,487.3 678.9,487.4 C682.1,487.5 685.8,488.1 688.6,488.7 C691.4,489.3 694.1,490.5 695.9,491.2 C697.7,491.9 698.1,492.8 699.3,492.6 C700.5,492.5 701.2,491.1 703.0,490.3 C704.8,489.5 707.3,488.5 710.1,487.9 C712.9,487.3 716.6,486.8 719.8,486.7 C723.0,486.6 726.5,486.9 729.5,487.5 C732.5,488.1 735.5,489.2 738,490.3 C740.5,491.4 743.0,492.6 744.7,493.9 C746.4,495.2 747.2,496.9 748.3,498.2 C749.4,499.5 750.0,500.9 751.5,501.8 C753.0,502.7 755.2,502.7 757.4,503.6 C759.6,504.5 762.7,505.9 764.7,507.3 C766.7,508.7 768.5,510.6 769.5,512.1 C770.5,513.6 770.9,514.9 770.7,516.4 C770.5,517.9 769.7,519.8 768.3,521.2 C766.9,522.6 764.4,523.8 762.2,524.8 C760.0,525.8 756.8,526.6 755,527.3 C753.2,528.0 752.7,528.1 751.3,529.1 C749.9,530.1 748.7,531.9 746.5,533.3 C744.3,534.7 741.2,536.5 738,537.6 C734.8,538.8 730.5,539.7 727.1,540.2 C723.7,540.7 720.6,540.6 717.4,540.4 C714.2,540.2 710.4,539.5 707.7,538.8 C705.1,538.1 703.1,536.9 701.5,536.3 C699.9,535.7 699.3,535.1 698.2,535.2 C697.1,535.3 696.5,536.2 694.7,537 C692.9,537.8 690.0,539.3 687.4,540 C684.8,540.7 681.9,541.4 678.9,541.3 C675.9,541.2 671.8,540.3 669.2,539.6 C666.6,538.9 664.9,538.0 663.2,537 C661.5,536.0 660.7,534.3 658.9,533.3 C657.1,532.3 654.5,531.7 652.2,530.9 C649.9,530.1 647.2,529.5 645,528.5 C642.8,527.5 640.5,526.2 638.9,524.8 C637.3,523.4 636.1,521.7 635.3,520 C634.5,518.3 634.1,516.3 634.1,514.5Z" fill="#fff" stroke="#cbcbcb" stroke-width="2.2" stroke-linejoin="round"/>
<ellipse cx="673.1" cy="509.3" rx="4.8" ry="3" fill="#000"/>
<ellipse cx="730.3" cy="509.1" rx="4.6" ry="3" fill="#000"/>
<ellipse cx="667.9" cy="521.7" rx="9.3" ry="5.1" fill="#ffa9c2"/>
<ellipse cx="737.4" cy="520.9" rx="9.9" ry="5.2" fill="#ffa9c2"/>
<path d="M691.7,512.7 C694.5,514.6 698.5,518.2 701.3,518.2 C704,518.2 707.5,515 711.0,512.2" fill="none" stroke="#000" stroke-width="2.2" stroke-linecap="round" stroke-linejoin="round"/>
</svg>
</body></html>
